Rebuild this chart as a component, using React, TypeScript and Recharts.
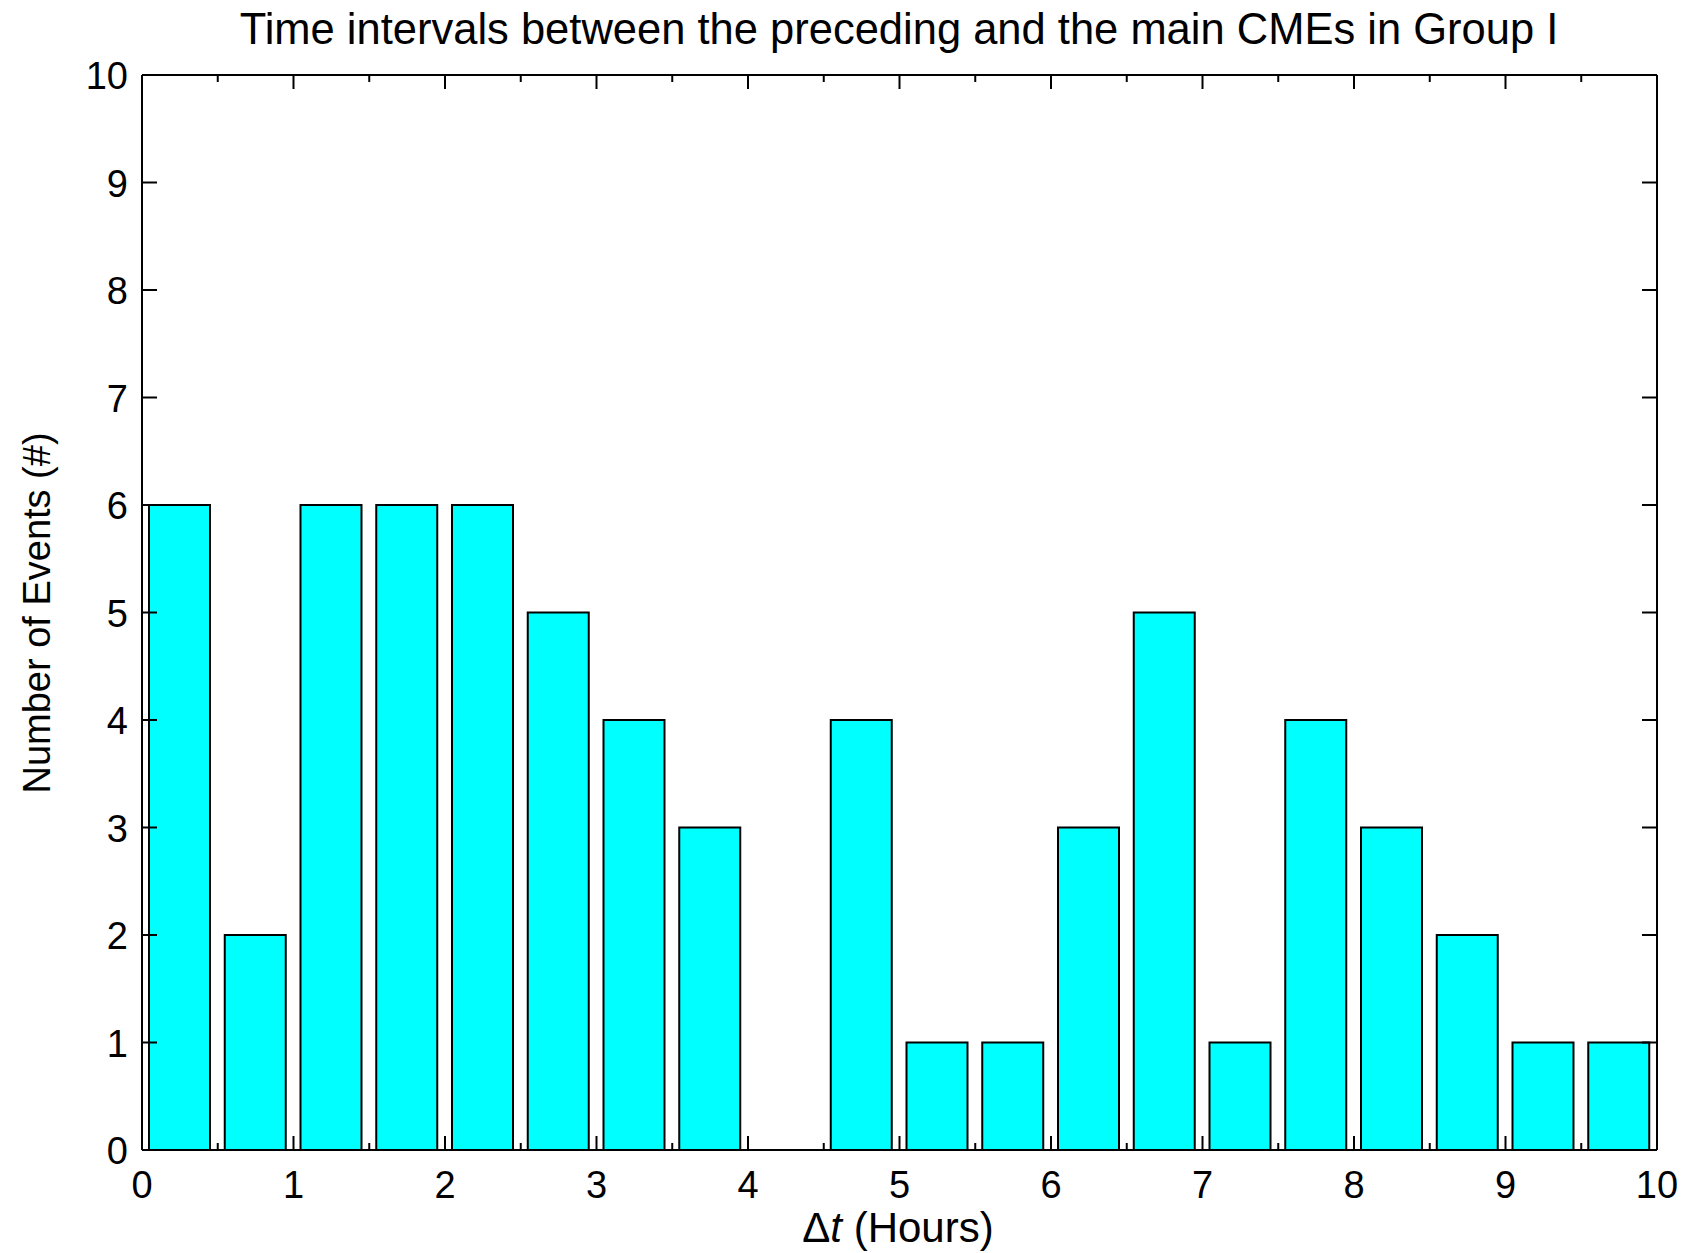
import React from 'react';
import { BarChart, Bar, XAxis, YAxis } from 'recharts';

// histogram of delta-t between preceding and main CMEs (bin width 0.5 h)
const binCenters = [0.25, 0.75, 1.25, 1.75, 2.25, 2.75, 3.25, 3.75, 4.25, 4.75, 5.25, 5.75, 6.25, 6.75, 7.25, 7.75, 8.25, 8.75, 9.25, 9.75];
const eventCounts = [6, 2, 6, 6, 6, 5, 4, 3, 0, 4, 1, 1, 3, 5, 1, 4, 3, 2, 1, 1];
const xTicks = [0, 0.5, 1, 1.5, 2, 2.5, 3, 3.5, 4, 4.5, 5, 5.5, 6, 6.5, 7, 7.5, 8, 8.5, 9, 9.5, 10];
const yTicks = [0, 1, 2, 3, 4, 5, 6, 7, 8, 9, 10];

const title = 'Time intervals between the preceding and the main CMEs in Group I';
const yLabel = 'Number of Events (#)';

const data = binCenters.map((x, i) => ({ x, count: eventCounts[i] }));

const FONT = '"Liberation Sans", Arial, Helvetica, sans-serif';
const W = 1702;
const H = 1253;

const BottomTick = (props: any) => {
  const { x, y, payload } = props;
  const v = payload.value;
  const major = Number.isInteger(v);
  return (
    <g>
      <line x1={x} x2={x} y1={y} y2={y - (major ? 14 : 7)} stroke="#000" strokeWidth={2} />
      {major && (
        <text x={x} y={y + 48} textAnchor="middle" fontSize={38} fill="#000" fontFamily={FONT}>
          {v}
        </text>
      )}
    </g>
  );
};

const TopTick = (props: any) => {
  const { x, y, payload } = props;
  const major = Number.isInteger(payload.value);
  return <line x1={x} x2={x} y1={y} y2={y + (major ? 14 : 7)} stroke="#000" strokeWidth={2} />;
};

const LeftTick = (props: any) => {
  const { x, y, payload } = props;
  return (
    <g>
      <line x1={x} x2={x + 15} y1={y} y2={y} stroke="#000" strokeWidth={2} />
      <text x={x - 14} y={y + 14} textAnchor="end" fontSize={38} fill="#000" fontFamily={FONT}>
        {payload.value}
      </text>
    </g>
  );
};

const RightTick = (props: any) => {
  const { x, y } = props;
  return <line x1={x} x2={x - 15} y1={y} y2={y} stroke="#000" strokeWidth={2} />;
};

export default function App() {
  return (
    <div style={{ position: 'absolute', left: 0, top: 0, width: W, height: H, background: '#fff' }}>
      <BarChart width={W} height={H} data={data} margin={{ top: 0, right: 0, bottom: 0, left: 0 }}>
        <XAxis
          xAxisId="bottom"
          dataKey="x"
          type="number"
          domain={[0, 10]}
          ticks={xTicks}
          interval={0}
          height={103}
          tickSize={0}
          tickMargin={0}
          tickLine={false}
          tick={BottomTick}
          axisLine={{ stroke: '#000', strokeWidth: 2 }}
          allowDataOverflow
          label={{
            content: () => (
              <text x={898} y={1242} textAnchor="middle" fontSize={42} fill="#000" fontFamily={FONT}>
                <tspan>Δ</tspan>
                <tspan fontStyle="italic">t</tspan>
                <tspan> (Hours)</tspan>
              </text>
            ),
          }}
        />
        <XAxis
          xAxisId="top"
          orientation="top"
          dataKey="x"
          type="number"
          domain={[0, 10]}
          allowDataOverflow
          ticks={xTicks}
          interval={0}
          height={75}
          tickSize={0}
          tickMargin={0}
          tickLine={false}
          tick={TopTick}
          axisLine={{ stroke: '#000', strokeWidth: 2 }}
          label={{
            content: () => (
              <text x={899} y={44} textAnchor="middle" fontSize={43.5} fill="#000" fontFamily={FONT}>
                {title}
              </text>
            ),
          }}
        />
        <YAxis
          yAxisId="left"
          type="number"
          domain={[0, 10]}
          allowDataOverflow
          ticks={yTicks}
          interval={0}
          width={142}
          tickSize={0}
          tickMargin={0}
          tickLine={false}
          tick={LeftTick}
          axisLine={{ stroke: '#000', strokeWidth: 2 }}
          label={{
            content: () => (
              <text
                x={50}
                y={613}
                transform="rotate(-90, 50, 613)"
                textAnchor="middle"
                fontSize={38}
                fill="#000"
                fontFamily={FONT}
              >
                {yLabel}
              </text>
            ),
          }}
        />
        <YAxis
          yAxisId="right"
          orientation="right"
          dataKey="count"
          type="number"
          domain={[0, 10]}
          allowDataOverflow
          ticks={yTicks}
          interval={0}
          width={45}
          tickSize={0}
          tickMargin={0}
          tickLine={false}
          tick={RightTick}
          axisLine={{ stroke: '#000', strokeWidth: 2 }}
        />
        <Bar
          xAxisId="bottom"
          yAxisId="left"
          dataKey="count"
          barSize={61}
          fill="#00ffff"
          stroke="#000"
          strokeWidth={2}
          isAnimationActive={false}
        />
      </BarChart>
    </div>
  );
}
